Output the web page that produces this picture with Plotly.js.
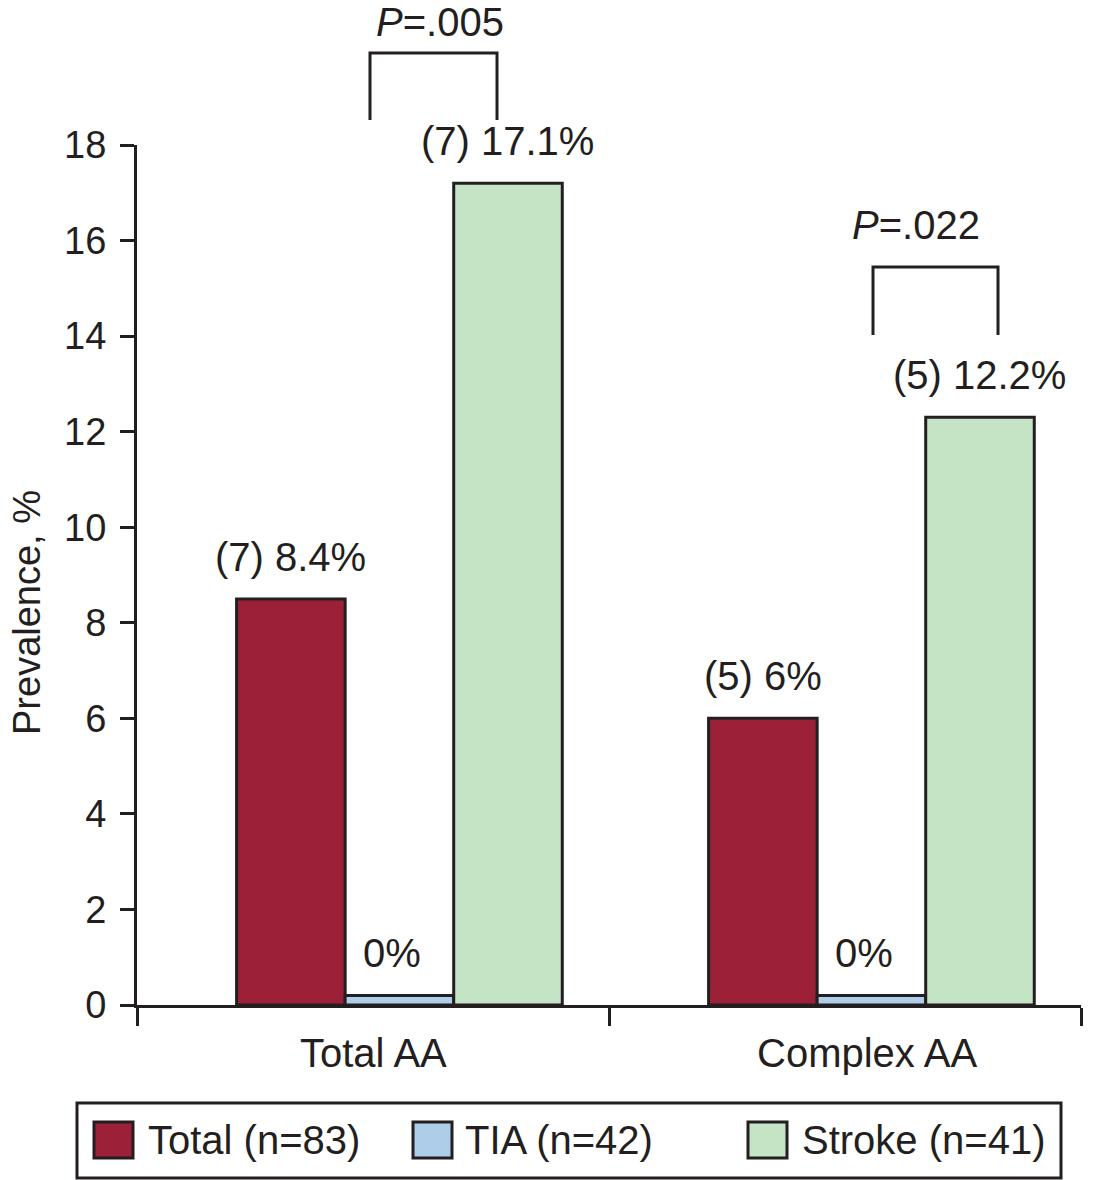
<!DOCTYPE html>
<html>
<head>
<meta charset="utf-8">
<script src="https://cdn.plot.ly/plotly-3.0.1.min.js"></script>
<style>
  html, body { margin: 0; padding: 0; background: #fff; }
  #plot { width: 1093px; height: 1180px; }
</style>
</head>
<body>
<div id="plot"></div>
<script>
const categories = ["Total AA", "Complex AA"];
const seriesNames = ["Total (n=83)", "TIA (n=42)", "Stroke (n=41)"];
const totalValues = [8.5, 6.0];
const tiaValues = [0.2, 0.2];
const strokeValues = [17.2, 12.3];
const totalLabels = ["(7) 8.4%", "(5) 6%"];
const tiaLabels = ["0%", "0%"];
const strokeLabels = ["(7) 17.1%", "(5) 12.2%"];
const pLabels = ["<i>P</i>=.005", "<i>P</i>=.022"];

const colors = ["#9c2138", "#aecde9", "#c5e4c5"];
const ink = "#231f20";
const font = "Liberation Sans, Arial, sans-serif";

// plot area in pixels
const L = 137, R = 12, T = 145, B = 175;
const PW = 1093 - L - R, PH = 1180 - T - B;
const px = x => (x - L) / PW;
const py = y => (1180 - B - y) / PH;

const barWidth = 0.23;
const groupStart = -0.289;

const values = [totalValues, tiaValues, strokeValues];
const labels = [totalLabels, tiaLabels, strokeLabels];

const traces = values.map((v, s) => ({
  type: "bar",
  name: seriesNames[s],
  x: categories,
  y: v,
  width: barWidth,
  offset: groupStart + s * barWidth,
  marker: { color: colors[s], line: { color: ink, width: 3 } },
  showlegend: false,
  hoverinfo: "x+y+name"
}));

const annotations = [];
values.forEach((v, s) => {
  v.forEach((val, i) => {
    annotations.push({
      xref: "x", yref: "y",
      x: i + groupStart + s * barWidth + barWidth / 2,
      y: val,
      yanchor: "bottom",
      yshift: 18,
      xshift: s === 1 ? -7 : 0,
      text: labels[s][i],
      showarrow: false,
      font: { family: font, size: 40, color: ink }
    });
  });
});

// category labels (the second one sits a little right of centre in the original)
const catShift = [0, 22];
categories.forEach((c, i) => {
  annotations.push({
    xref: "x", yref: "paper", x: i, y: py(1053),
    xshift: catShift[i], yanchor: "middle",
    text: c, showarrow: false,
    font: { family: font, size: 40, color: ink }
  });
});

// y axis title
annotations.push({
  xref: "paper", yref: "paper", x: px(27), y: py(613),
  xanchor: "center", yanchor: "middle", textangle: -90,
  text: "Prevalence, %", showarrow: false,
  font: { family: font, size: 38, color: ink }
});

// p-value brackets
const brackets = [
  { x0: 370, x1: 497, top: 53, bottom: 120, tx: 440, ty: 22 },
  { x0: 873, x1: 998, top: 267, bottom: 335, tx: 916, ty: 225 }
];
const shapes = [];
brackets.forEach((b, k) => {
  shapes.push({
    type: "path", xref: "paper", yref: "paper",
    path: "M" + px(b.x0) + "," + py(b.bottom) + " L" + px(b.x0) + "," + py(b.top) +
          " L" + px(b.x1) + "," + py(b.top) + " L" + px(b.x1) + "," + py(b.bottom),
    line: { color: ink, width: 3 }
  });
  annotations.push({
    xref: "paper", yref: "paper", x: px(b.tx), y: py(b.ty),
    xanchor: "center", yanchor: "middle",
    text: pLabels[k], showarrow: false,
    font: { family: font, size: 40, color: ink }
  });
});

// legend drawn by hand so the swatches match the original size
shapes.push({
  type: "rect", xref: "paper", yref: "paper",
  x0: px(77), x1: px(1061), y0: py(1178), y1: py(1103),
  line: { color: ink, width: 3 }, fillcolor: "rgba(0,0,0,0)"
});
const swatchX = [94, 413, 748];
const textX = [146, 463, 800];
seriesNames.forEach((name, s) => {
  shapes.push({
    type: "rect", xref: "paper", yref: "paper",
    x0: px(swatchX[s]), x1: px(swatchX[s] + 39), y0: py(1158), y1: py(1122),
    line: { color: ink, width: 3 }, fillcolor: colors[s]
  });
  annotations.push({
    xref: "paper", yref: "paper", x: px(textX[s]), y: py(1140),
    xanchor: "left", yanchor: "middle",
    text: name, showarrow: false,
    font: { family: font, size: 40, color: ink }
  });
});

const layout = {
  width: 1093,
  height: 1180,
  margin: { l: L, r: R, t: T, b: B, pad: 0 },
  paper_bgcolor: "#fff",
  plot_bgcolor: "#fff",
  barmode: "overlay",
  font: { family: font, color: ink },
  showlegend: false,
  xaxis: {
    type: "category",
    range: [-0.5, 1.5],
    showline: true, linecolor: ink, linewidth: 3,
    ticks: "outside", tickson: "boundaries", ticklen: 18, tickwidth: 3, tickcolor: ink,
    showticklabels: false,
    showgrid: false, zeroline: false
  },
  yaxis: {
    range: [0, 18],
    dtick: 2,
    showline: true, linecolor: ink, linewidth: 3,
    ticks: "outside", ticklen: 14, tickwidth: 3, tickcolor: ink,
    ticklabelstandoff: 6,
    tickfont: { family: font, size: 38, color: ink },
    showgrid: false, zeroline: false
  },
  shapes: shapes,
  annotations: annotations
};

Plotly.newPlot("plot", traces, layout, { displayModeBar: false, staticPlot: true });
</script>
</body>
</html>
